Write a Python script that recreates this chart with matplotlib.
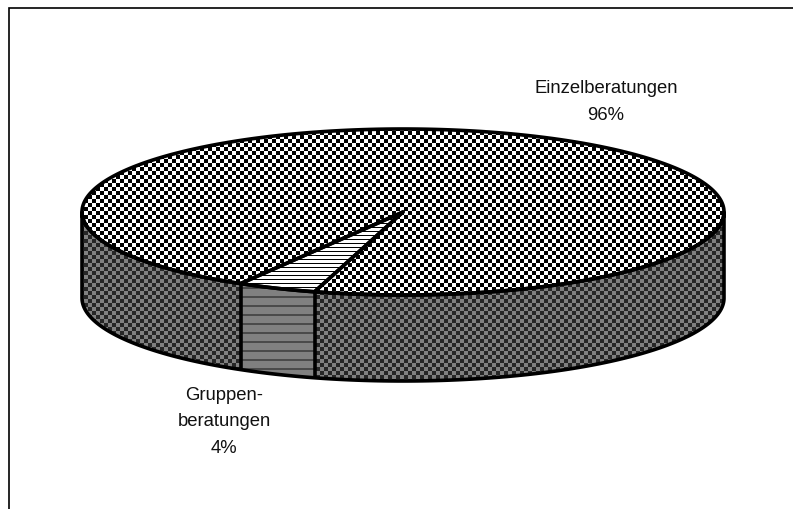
import numpy as np
import matplotlib
matplotlib.use('Agg')
from matplotlib import pyplot as plt
from matplotlib.colors import ListedColormap
from matplotlib.patches import Polygon

labels = ['Einzelberatungen\n96%', 'Gruppen-\nberatungen\n4%']
shares = [96, 4]

W, H = 793, 510
cx, cy, rx, ry = 403, 213, 321, 83
depth = 86
start = 16  # where the small slice begins, degrees left of the front

plt.rcParams['font.family'] = ['Liberation Sans', 'DejaVu Sans']


def rim(t):
    t = np.radians(t)
    return np.column_stack((cx - rx * np.sin(t), cy + ry * np.cos(t)))


def checker(cell):
    yy, xx = np.mgrid[0:H, 0:W]
    return ((xx // cell + yy // cell) % 2).astype(float)


def stripes(period, thick):
    yy, xx = np.mgrid[0:H, 0:W]
    return (yy % period < thick).astype(float)


def fill(pts, pattern, c0, c1):
    im = ax.imshow(pattern, cmap=ListedColormap([c0, c1]), vmin=0, vmax=1,
                   extent=(0, W, H, 0), interpolation='nearest', aspect='auto', zorder=1)
    patch = Polygon(pts, closed=True, transform=ax.transData, fill=False, ec='none')
    ax.add_patch(patch)
    im.set_clip_path(patch)


def outline(pts, closed=True):
    ax.add_patch(Polygon(pts, closed=closed, fill=False, ec='black', lw=2.6,
                         joinstyle='round', zorder=3))


fig = plt.figure(figsize=(W / 100, H / 100), dpi=100, facecolor='white')
ax = fig.add_axes([0, 0, 1, 1])

# slice angles come from the shares
small = shares[1] / sum(shares) * 360
a0, a1 = start, start + small

front = rim(np.linspace(-90, 90, 361))
small_arc = rim(np.linspace(a0, a1, 40))
right_arc = rim(np.linspace(-90, a0, 200))
left_arc = rim(np.linspace(a1, 90, 120))
centre = np.array([[cx, cy]])
down = np.array([0, depth])

# side walls
fill(np.vstack((right_arc, (right_arc + down)[::-1])), checker(4), '#808080', '#262626')
fill(np.vstack((left_arc, (left_arc + down)[::-1])), checker(4), '#808080', '#262626')
fill(np.vstack((small_arc, (small_arc + down)[::-1])), stripes(9, 2), '#808080', '#4a4a4a')
outline(np.vstack((front, (front + down)[::-1])))
for a in (a0, a1):
    outline(np.vstack((rim([a]), rim([a]) + down)), closed=False)

# top face
big_face = np.vstack((centre, rim(np.linspace(a1, a0 + 360, 900))))
small_face = np.vstack((centre, small_arc))
fill(big_face, checker(4), 'white', 'black')
fill(small_face, stripes(4, 1), 'white', 'black')
outline(big_face)
outline(small_face)

ax.text(606, 102, labels[0], ha='center', va='center', fontsize=13.3, color='#111111',
        linespacing=1.75, zorder=4)
ax.text(224, 422, labels[1], ha='center', va='center', fontsize=13.3, color='#111111',
        linespacing=1.7, zorder=4)

# chart area border, only top and left are inside the picture
ax.plot([8.5, 8.5, W], [H, 8.5, 8.5], color='black', lw=1.2, solid_joinstyle='miter', zorder=4)

ax.set_xlim(0, W)
ax.set_ylim(H, 0)
ax.axis('off')
fig.savefig('out.png', dpi=100)
